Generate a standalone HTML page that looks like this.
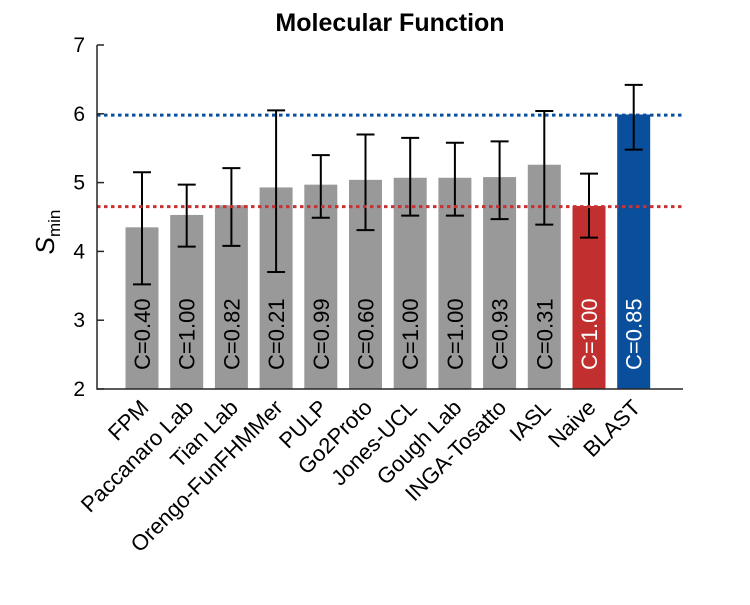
<!DOCTYPE html>
<html><head><meta charset="utf-8"><style>
body{margin:0;background:#fff}
svg text{font-family:"Liberation Sans","DejaVu Sans",sans-serif}
</style></head><body>
<svg id="c" width="750" height="600" viewBox="0 0 750 600" xmlns="http://www.w3.org/2000/svg">
<text x="390" y="31" text-anchor="middle" font-size="25" font-weight="bold">Molecular Function</text>
<g id="plot"></g>
</svg>
<script>
const categories=["FPM","Paccanaro Lab","Tian Lab","Orengo-FunFHMMer","PULP","Go2Proto","Jones-UCL","Gough Lab","INGA-Tosatto","IASL","Naive","BLAST"];
const values=[4.35,4.53,4.67,4.93,4.97,5.04,5.07,5.07,5.08,5.26,4.66,5.99];
const errLow=[3.52,4.07,4.08,3.70,4.49,4.31,4.52,4.52,4.47,4.39,4.20,5.48];
const errHigh=[5.15,4.97,5.21,6.05,5.40,5.70,5.65,5.58,5.60,6.04,5.13,6.42];
const coverage=["C=0.40","C=1.00","C=0.82","C=0.21","C=0.99","C=0.60","C=1.00","C=1.00","C=0.93","C=0.31","C=1.00","C=0.85"];
const yTicks=[2,3,4,5,6,7];
const refBlast=5.98, refNaive=4.65;
const NS="http://www.w3.org/2000/svg";
const g=document.getElementById('plot');
const x0=97,x1=683,yTop=45,yBot=389;
const y=v=>yBot-(v-2)/(7-2)*(yBot-yTop);
const step=44.7, first=142;
const xc=i=>first+i*step;
function mk(t,a,p){const e=document.createElementNS(NS,t);for(const k in a)e.setAttribute(k,a[k]);(p||g).appendChild(e);return e;}
let l=mk('line',{x1:x0,x2:x1,y1:y(refBlast),y2:y(refBlast),stroke:'#0b4f9f','stroke-width':3,'stroke-dasharray':'3.5 3.5'});


categories.forEach((c,i)=>{
 const col=c==="Naive"?"#c1302e":c==="BLAST"?"#0a4f9c":"#999999";
 const b=mk('rect',{x:xc(i)-16.5,y:y(values[i]),width:33,height:yBot-y(values[i]),fill:col});
 
 
 const t=mk('text',{x:0,y:0,transform:`translate(${xc(i)+8},370) rotate(-90)`,'font-size':22,fill:(col==="#999999"?"#000":"#fff")});
 t.textContent=coverage[i];
 
 
 const eg=mk('g',{stroke:'#000','stroke-width':2});
 
 
 mk('line',{x1:xc(i),x2:xc(i),y1:y(errLow[i]),y2:y(errHigh[i])},eg);
 mk('line',{x1:xc(i)-9,x2:xc(i)+9,y1:y(errLow[i]),y2:y(errLow[i])},eg);
 mk('line',{x1:xc(i)-9,x2:xc(i)+9,y1:y(errHigh[i]),y2:y(errHigh[i])},eg);
 const xl=mk('text',{x:0,y:0,transform:`translate(${xc(i)+8},409) rotate(-45)`,'font-size':22,'text-anchor':'end'});
 xl.textContent=c;
 
 
});
l=mk('line',{x1:x0,x2:x1,y1:y(refNaive),y2:y(refNaive),stroke:'#c83232','stroke-width':3,'stroke-dasharray':'3.5 3.5'});


const ax=mk('path',{d:`M${x0},${yTop}V${yBot}H${x1}`,fill:'none',stroke:'#262626','stroke-width':1.5});


yTicks.forEach(v=>{
 mk('line',{x1:x0,x2:x0+7,y1:y(v),y2:y(v),stroke:'#262626','stroke-width':1.5});
 const t=mk('text',{x:x0-12,y:y(v)+7,'font-size':21,'text-anchor':'end'});
 t.textContent=v;
 
 
});
const yt=mk('text',{x:0,y:0,transform:'translate(54,232) rotate(-90)','font-size':26,'text-anchor':'middle'});
yt.innerHTML='<tspan font-style="italic">S</tspan><tspan font-size="17" dy="6">min</tspan>';


</script>
</body></html>
